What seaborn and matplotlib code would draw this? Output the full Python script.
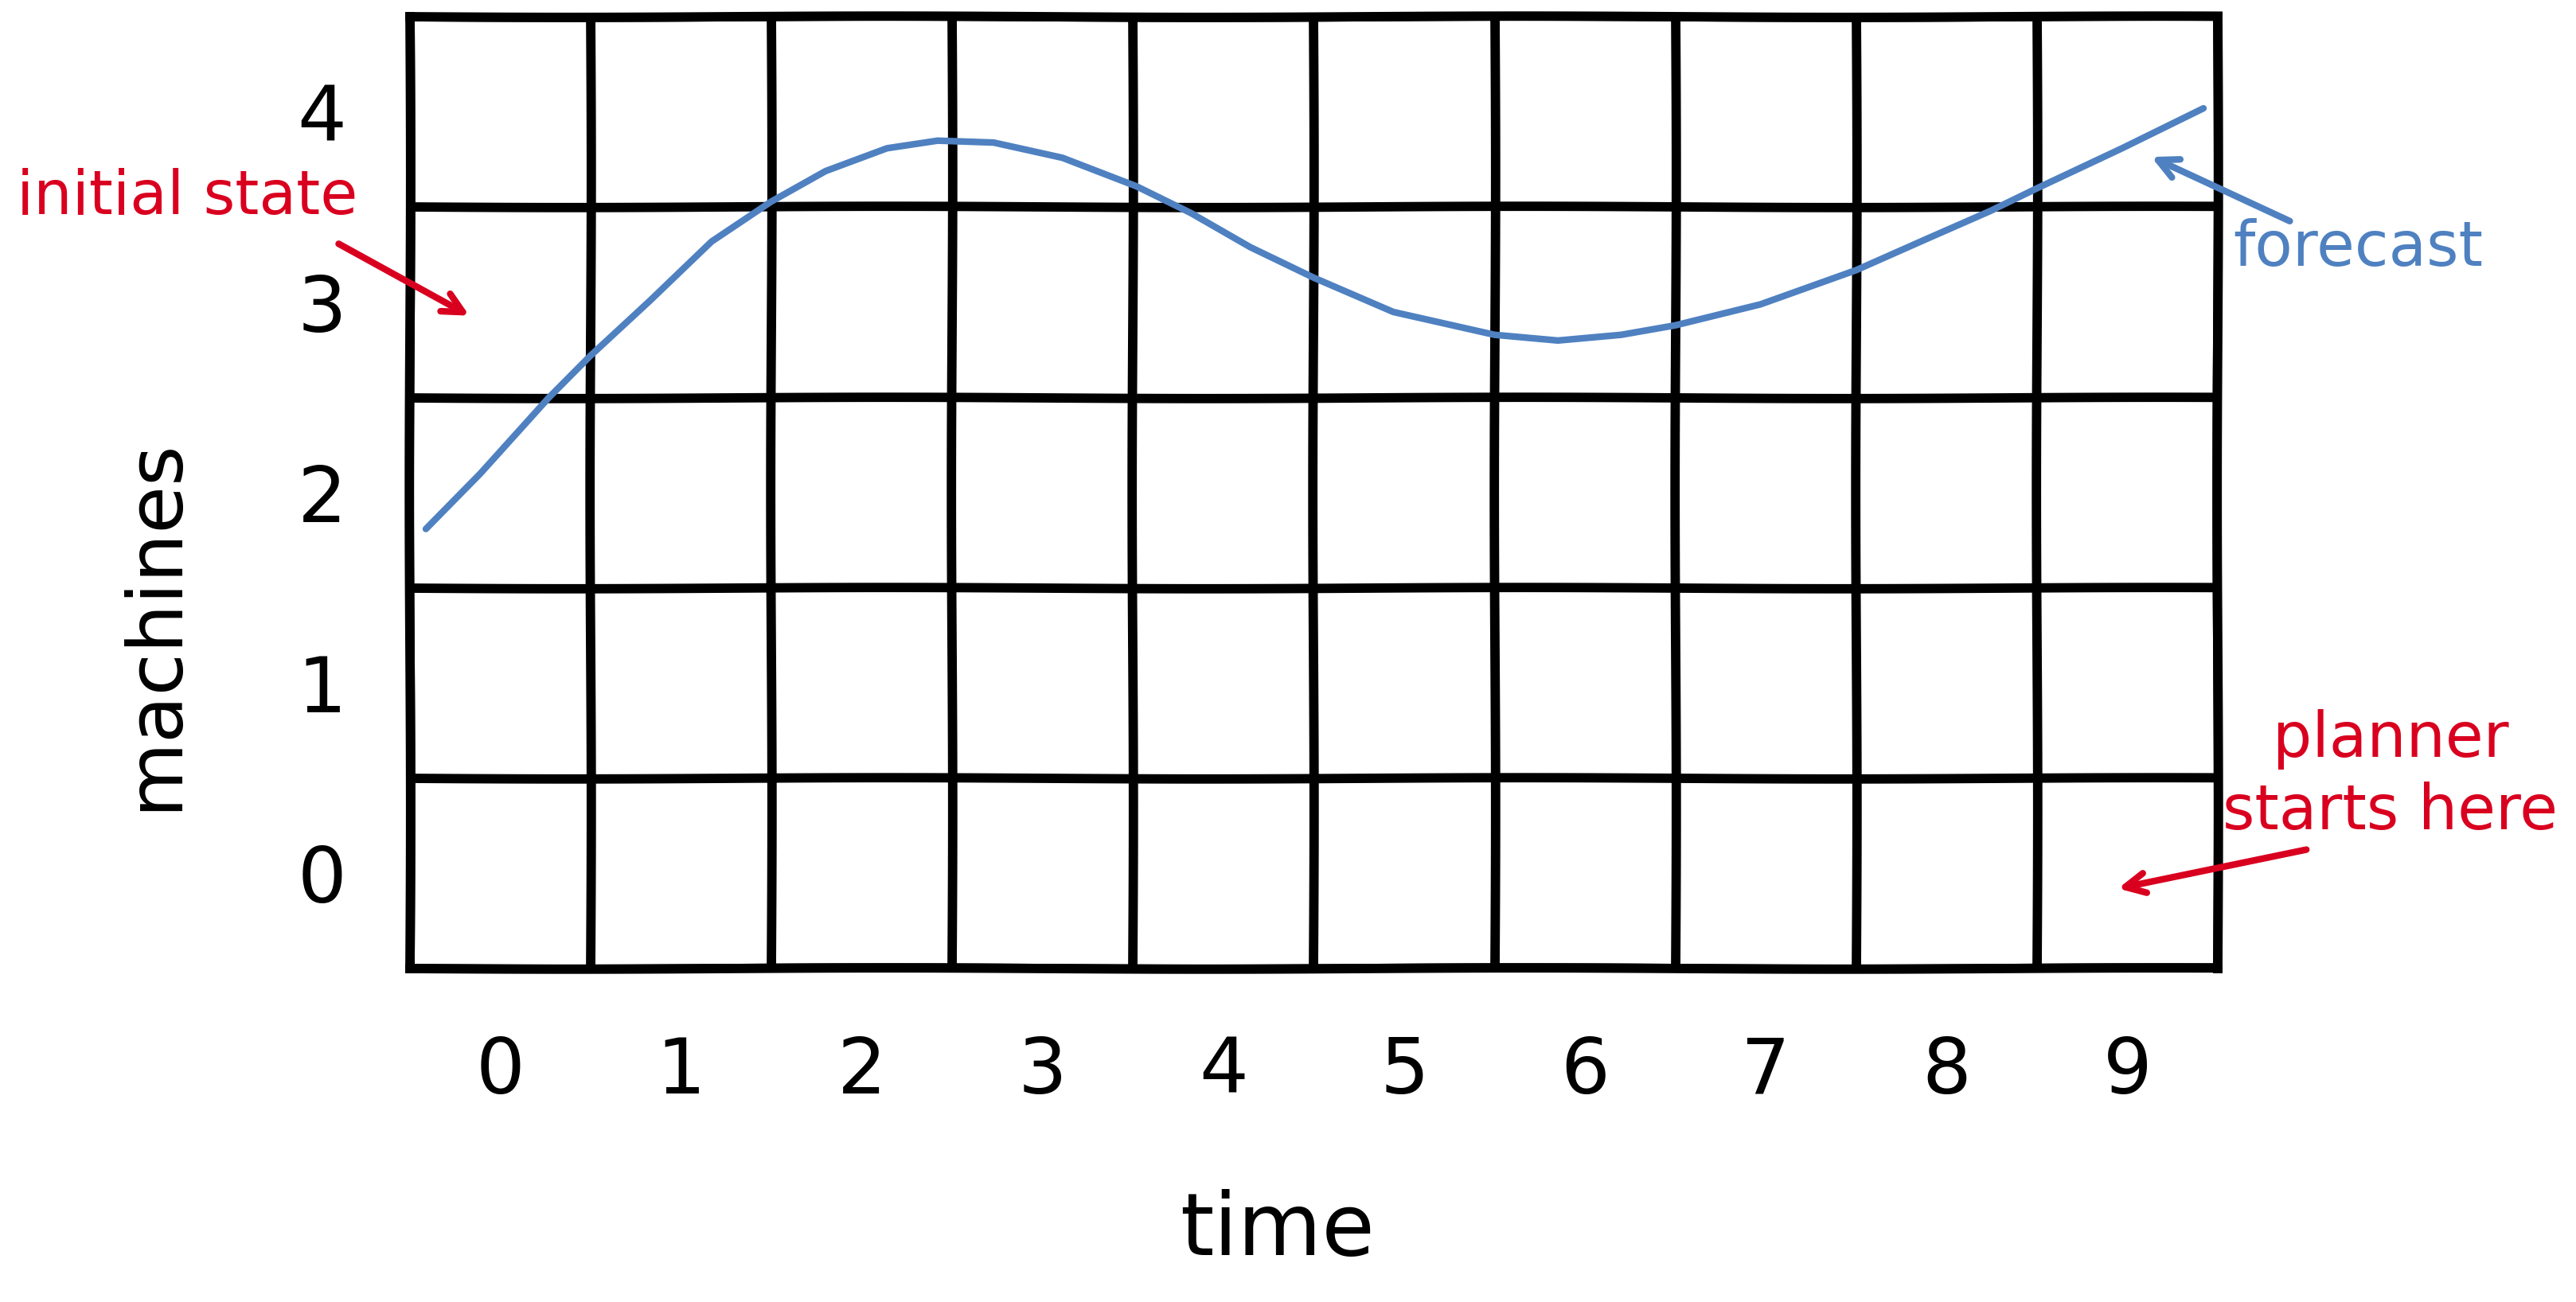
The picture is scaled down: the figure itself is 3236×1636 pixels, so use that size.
import seaborn as sns
import pandas as pd
import matplotlib.pyplot as plt
import numpy as np

# values
time_labels = ["0", "1", "2", "3", "4", "5", "6", "7", "8", "9"]
machine_labels = ["0", "1", "2", "3", "4"]
forecast_t = [-0.41, -0.11, 0.27, 0.50, 0.83, 1.17, 1.50, 1.80, 2.14, 2.42, 2.73,
              3.11, 3.52, 3.82, 4.15, 4.50, 4.94, 5.50, 5.85, 6.20, 6.50, 6.97,
              7.50, 7.88, 8.24, 8.50, 8.97, 9.42]
forecast_m = [1.81, 2.10, 2.50, 2.72, 3.01, 3.32, 3.53, 3.69, 3.81, 3.85, 3.84,
              3.76, 3.61, 3.47, 3.29, 3.13, 2.95, 2.83, 2.80, 2.83, 2.88, 2.99,
              3.17, 3.33, 3.48, 3.60, 3.81, 4.02]

RED = "#d9001f"
BLUE = "#4f81c1"
FONT = ["DejaVu Sans"]

sns.set_theme(style="white")
plt.rcParams['font.family'] = FONT

df = pd.DataFrame({"time": forecast_t, "machines": forecast_m})

fig = plt.figure(figsize=(32.36, 16.36), dpi=100)
ax = fig.add_axes([0.159, 0.256, 0.702, 0.731])

sns.lineplot(data=df, x="time", y="machines", sort=False, color=BLUE, lw=6,
             solid_joinstyle="round", solid_capstyle="round", ax=ax)

ax.set_xlim(-0.5, 9.5)
ax.set_ylim(-0.5, 4.5)
ax.set_xticks(range(len(time_labels)))
ax.set_xticklabels(time_labels)
ax.set_yticks(range(len(machine_labels)))
ax.set_yticklabels(machine_labels)
ax.set_xticks(np.arange(-0.5, 9.6, 1), minor=True)
ax.set_yticks(np.arange(-0.5, 4.6, 1), minor=True)
ax.tick_params(which="both", length=0, labelcolor="black")
ax.tick_params(axis="x", labelsize=70, pad=60)
ax.tick_params(axis="y", labelsize=70, pad=57)
ax.grid(which="minor", color="black", lw=8.5)
ax.grid(which="major", visible=False)
for t in ax.xaxis.get_minor_ticks() + ax.yaxis.get_minor_ticks():
    t.gridline.set_sketch_params(0.8, 800, 1)
for sp in ax.spines.values():
    sp.set_color("black")
    sp.set_linewidth(8.5)
    sp.set_sketch_params(0.8, 800, 1)
ax.set_axisbelow(True)

ax.set_xlabel("time", fontsize=78, labelpad=72, color="black")
ax.set_ylabel("machines", fontsize=70, labelpad=95, color="black")
ax.xaxis.label.set_x(0.48)
ax.yaxis.label.set_y(0.362)

H = 1636
arrow = "->,head_length=1.5,head_width=0.75"
# annotations (figure pixel positions)
fig.text(235 / 3236, 1 - 248 / H, "initial state", color=RED, fontsize=55,
         ha="center", va="center")
ax.annotate("", xy=(592, H - 398), xycoords="figure pixels",
            xytext=(423, H - 305), textcoords="figure pixels",
            arrowprops=dict(arrowstyle=arrow, color=RED, lw=6))

fig.text(2962 / 3236, 1 - 312 / H, "forecast", color=BLUE, fontsize=56,
         ha="center", va="center")
ax.annotate("", xy=(2700, H - 196), xycoords="figure pixels",
            xytext=(2879, H - 279), textcoords="figure pixels",
            arrowprops=dict(arrowstyle=arrow, color=BLUE, lw=6))

fig.text(3003 / 3236, 1 - 929 / H, "planner", color=RED, fontsize=56,
         ha="center", va="center")
fig.text(3003 / 3236, 1 - 1020 / H, "starts here", color=RED, fontsize=56,
         ha="center", va="center")
ax.annotate("", xy=(2658, H - 1117), xycoords="figure pixels",
            xytext=(2900, H - 1067), textcoords="figure pixels",
            arrowprops=dict(arrowstyle=arrow, color=RED, lw=6))

fig.savefig("out.png", dpi=100, facecolor="white")
plt.close()
